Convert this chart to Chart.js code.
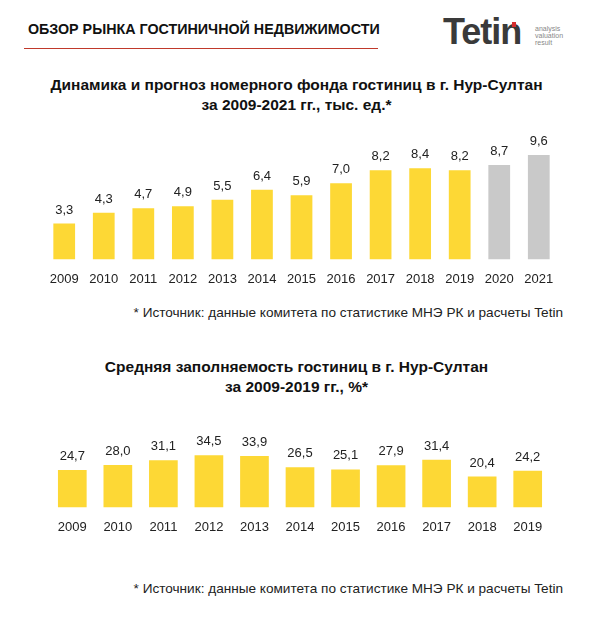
<!DOCTYPE html><html><head><meta charset="utf-8">
<script src="https://cdn.jsdelivr.net/npm/chart.js@4"></script>
<style>
body{margin:0;background:#fff;font-family:"Liberation Sans",Arial,sans-serif;color:#111;width:593px;height:641px;position:relative;overflow:hidden}
.abs{position:absolute}
.t{position:absolute;left:0;width:593px;text-align:center;font-weight:bold;font-size:15.5px;line-height:20px}
.src{position:absolute;right:30px;font-size:13.6px;color:#222}
</style></head><body>
<div class="abs" style="left:28px;top:21px;font-size:14.3px;font-weight:bold">ОБЗОР РЫНКА ГОСТИНИЧНОЙ НЕДВИЖИМОСТИ</div>
<div class="abs" style="left:24px;top:48px;width:354px;height:1px;background:#c0392b"></div>
<div class="abs" style="left:443px;top:11px;font-size:36px;font-weight:bold;color:#3a3a3a;letter-spacing:-1px">Tetin</div>
<div class="abs" style="left:512px;top:22px;width:4px;height:5px;background:#d62e2e"></div>
<div class="abs" style="left:535px;top:25px;font-size:7px;line-height:7px;color:#888">analysis<br>valuation<br>result</div>
<div class="t" style="top:75px">Динамика и прогноз номерного фонда гостиниц в г. Нур-Султан<br>за 2009-2021 гг., тыс. ед.*</div>
<div class="src" style="top:305px">* Источник: данные комитета по статистике МНЭ РК и расчеты Tetin</div>
<div class="t" style="top:357px">Средняя заполняемость гостиниц в г. Нур-Султан<br>за 2009-2019 гг., %*</div>
<div class="src" style="top:581px">* Источник: данные комитета по статистике МНЭ РК и расчеты Tetin</div>
<div class="abs" style="left:38px;top:135px;width:527px;height:164px"><canvas id="c1"></canvas></div>
<div class="abs" style="left:46px;top:430px;width:508px;height:117px"><canvas id="c2"></canvas></div>
<script>
const years1=["2009","2010","2011","2012","2013","2014","2015","2016","2017","2018","2019","2020","2021"];
const rooms=[3.3,4.3,4.7,4.9,5.5,6.4,5.9,7.0,8.2,8.4,8.2,8.7,9.6];
const years2=["2009","2010","2011","2012","2013","2014","2015","2016","2017","2018","2019"];
const occupancy=[24.7,28.0,31.1,34.5,33.9,26.5,25.1,27.9,31.4,20.4,24.2];
const forecastFrom=11;
const Y="#FDD835",G="#C9C9C9";
const labelPlugin={id:"lbl",afterDatasetsDraw(ch){const c=ch.ctx;const m=ch.getDatasetMeta(0);c.save();c.font="13px 'Liberation Sans',Arial";c.fillStyle="#222";c.textAlign="center";c.textBaseline="bottom";
m.data.forEach((b,i)=>{c.fillText(ch.data.datasets[0].data[i].toFixed(1).replace(".",","),b.x,b.y-7)});c.restore();}};
function mk(id,labels,data,colors,ymax,bp){
new Chart(document.getElementById(id),{type:"bar",data:{labels,datasets:[{data,backgroundColor:colors,barPercentage:bp,categoryPercentage:1}]},
options:{responsive:true,maintainAspectRatio:false,animation:false,layout:{padding:0},plugins:{legend:{display:false},tooltip:{enabled:false}},
scales:{y:{display:false,min:0,max:ymax},x:{grid:{display:false,drawTicks:false},border:{display:false},ticks:{color:"#222",padding:12,font:{family:"'Liberation Sans',Arial",size:13}}}}},plugins:[labelPlugin]});}
mk("c1",years1,rooms,rooms.map((v,i)=>i>=forecastFrom?G:Y),11.45,0.55);
mk("c2",years2,occupancy,occupancy.map(()=>Y),51.1,0.63);
</script></body></html>
